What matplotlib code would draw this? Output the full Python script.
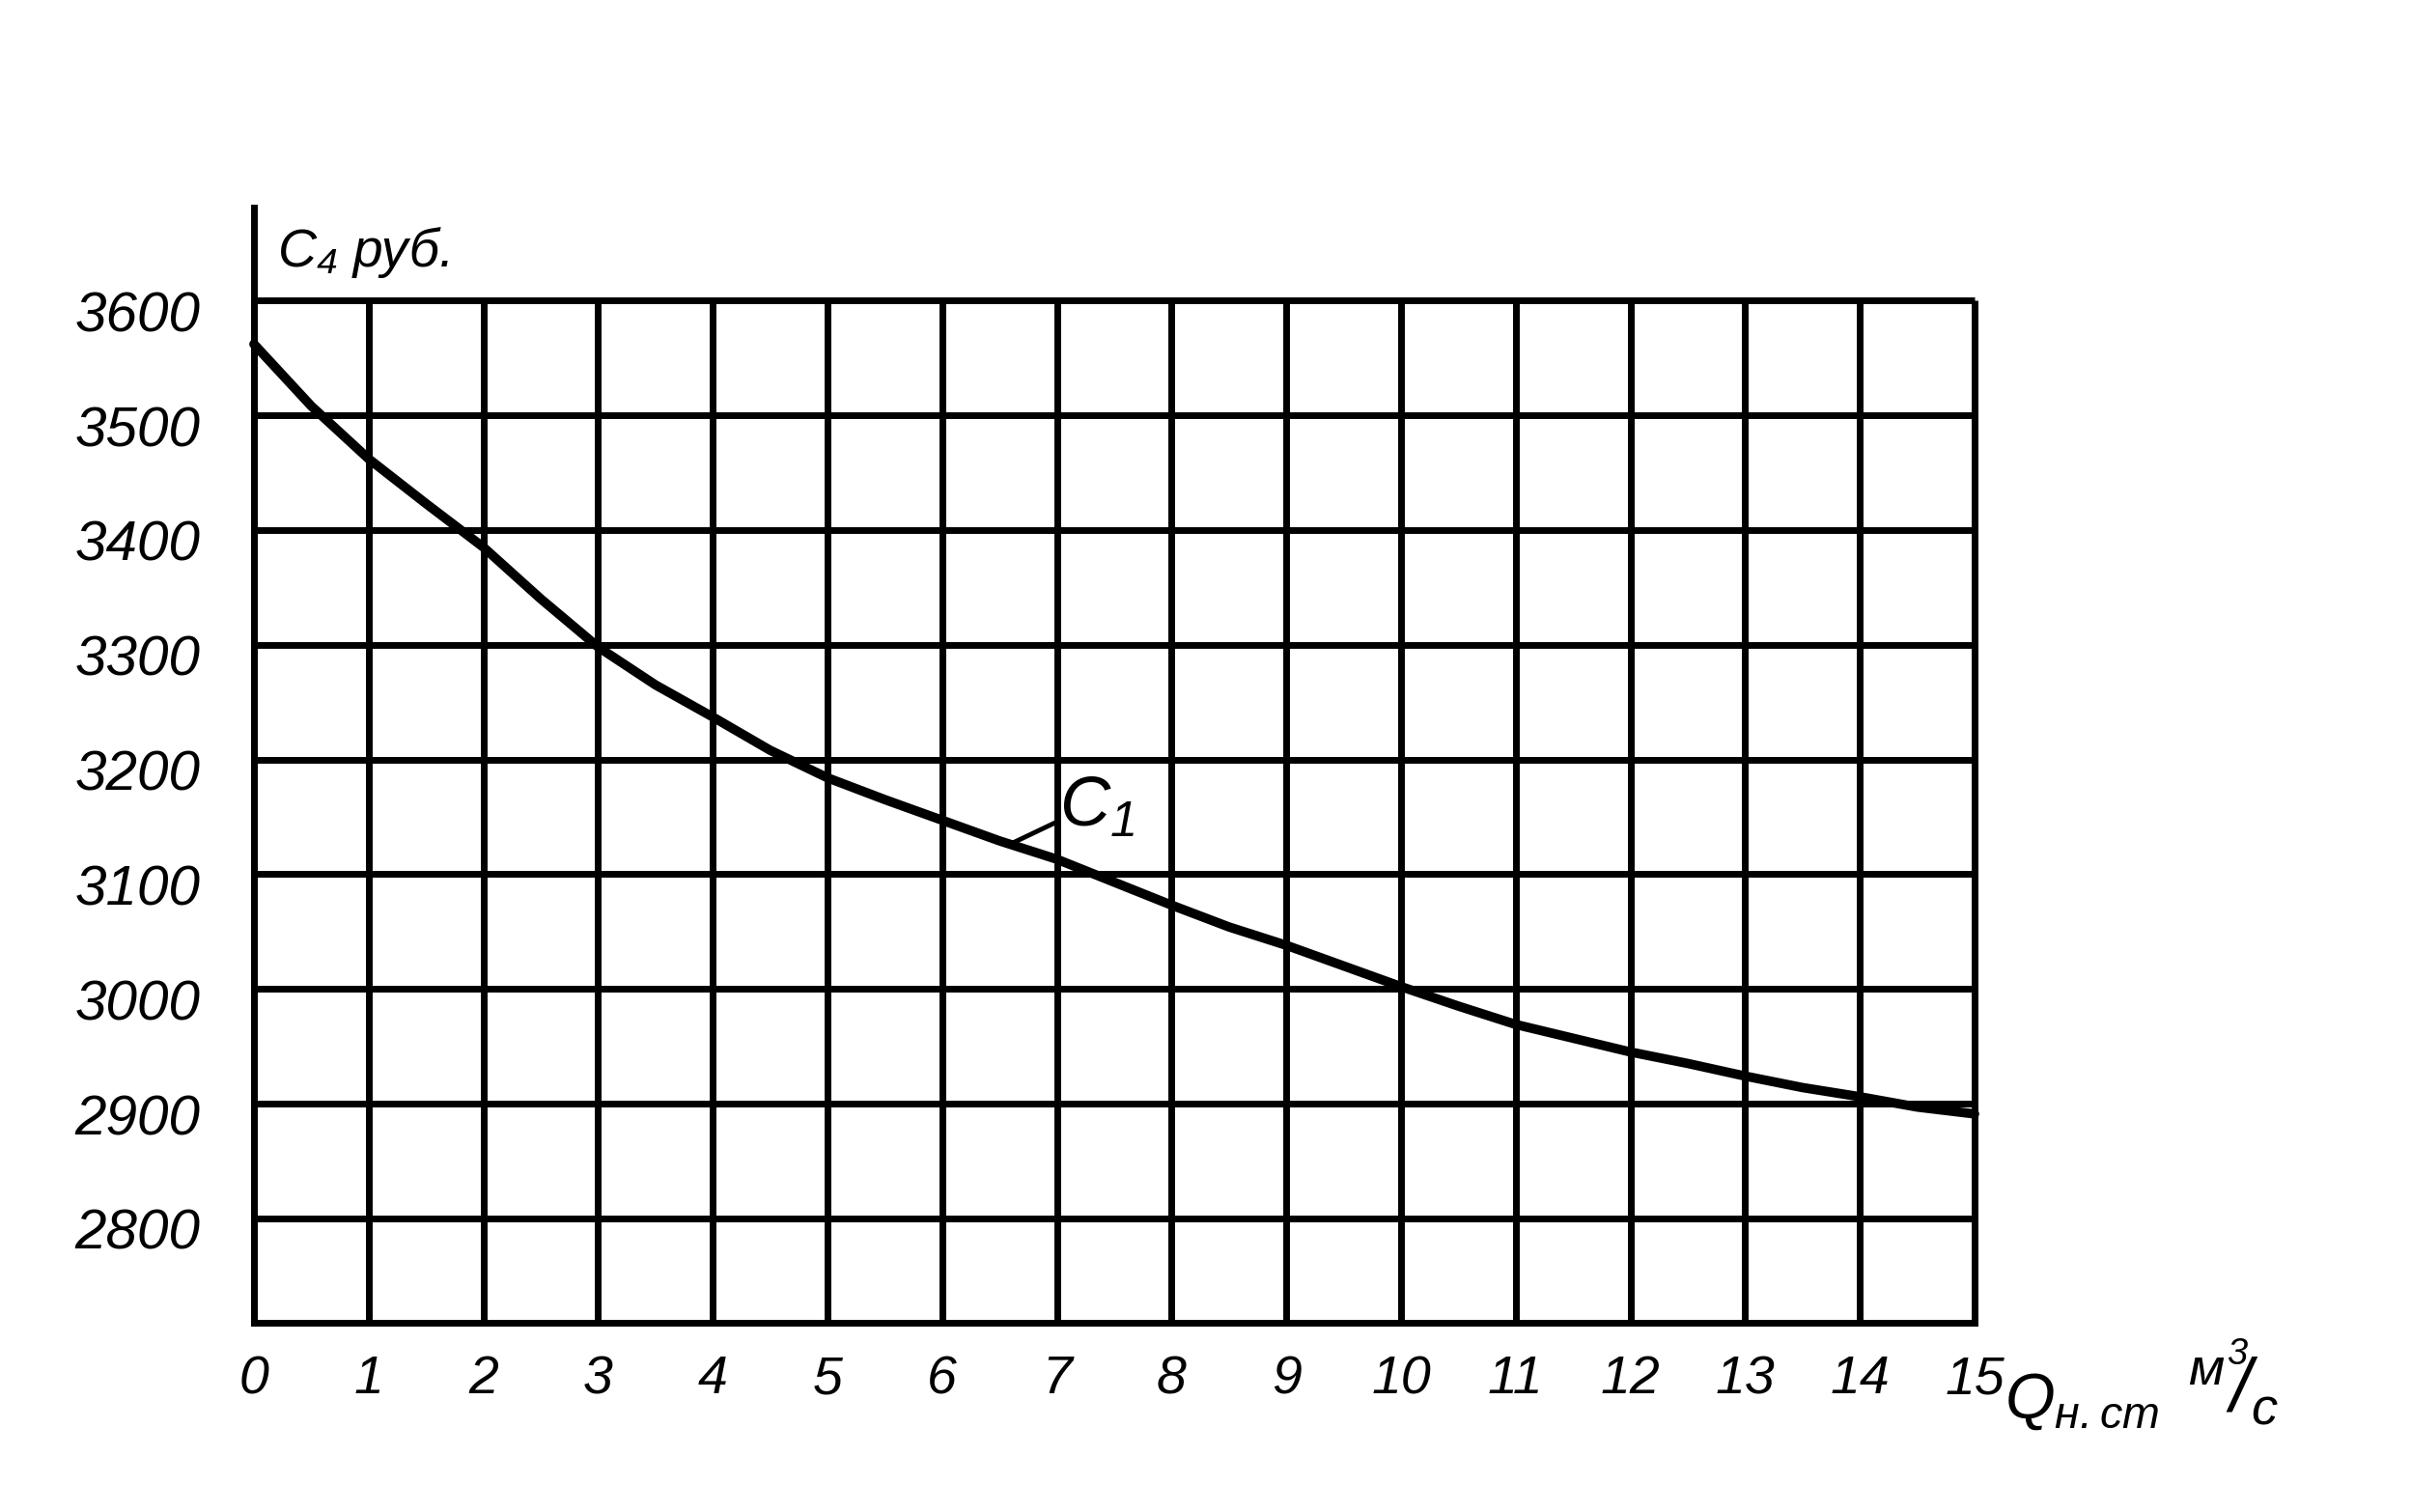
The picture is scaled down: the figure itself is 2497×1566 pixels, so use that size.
import matplotlib
matplotlib.use("Agg")
from matplotlib import pyplot as plt
import matplotlib.transforms as mtransforms

# values (every half unit of Q)
q_values = [0, 0.5, 1, 1.5, 2, 2.5, 3, 3.5, 4, 4.5, 5, 5.5, 6, 6.5, 7, 7.5,
            8, 8.5, 9, 9.5, 10, 10.5, 11, 11.5, 12, 12.5, 13, 13.5, 14, 14.5, 15]
c_values = [3562, 3508, 3462, 3423, 3385, 3340, 3298, 3265, 3237, 3208, 3184,
            3165, 3147, 3129, 3113, 3093, 3073, 3054, 3038, 3020, 3002, 2985,
            2969, 2957, 2945, 2935, 2924, 2914, 2906, 2897, 2891]

x_ticks = list(range(0, 16))
y_ticks = [2800, 2900, 3000, 3100, 3200, 3300, 3400, 3500, 3600]
x_labels = [str(v) for v in x_ticks]
y_labels = [str(v) for v in y_ticks]

FONT = ['Liberation Sans', 'DejaVu Sans']
W, H = 2497, 1566

plt.rcParams['font.family'] = FONT
plt.rcParams['font.style'] = 'italic'
plt.rcParams['mathtext.fontset'] = 'custom'
plt.rcParams['mathtext.it'] = 'Liberation Sans:italic'
plt.rcParams['mathtext.rm'] = 'Liberation Sans:italic'

fig = plt.figure(figsize=(W / 100, H / 100), dpi=100)
ax = fig.add_axes([263 / W, 196 / H, (2045 - 263) / W, (1370 - 215) / H])
ax.set_xlim(0, 15)
ax.set_ylim(2709, 3681)

# grid as drawn on paper
ax.hlines(y_ticks, 0, 15, colors='black', lw=5, clip_on=False)
ax.vlines(x_ticks, 2709, 3600, colors='black', lw=5, clip_on=False)

ax.plot(q_values, c_values, color='black', lw=7, solid_capstyle='round',
        solid_joinstyle='round', clip_on=False)

for s in ['top', 'right']:
    ax.spines[s].set_visible(False)
for s in ['left', 'bottom']:
    ax.spines[s].set_linewidth(5)

ax.set_yticks([])
ax.set_xticks(x_ticks)
ax.set_xticklabels(x_labels, fontsize=40, style='italic')
ax.tick_params(axis='x', length=0, pad=24)

# y labels sit slightly under their lines
off = mtransforms.ScaledTranslation(0, -0.17, fig.dpi_scale_trans)
for v, lab in zip(y_ticks, y_labels):
    ax.text(-0.031, v, lab, transform=ax.get_yaxis_transform() + off,
            ha='right', va='center', fontsize=42, style='italic')

# curve label with leader
ax.annotate(r'$C_1$', xy=(6.61, 3127), xytext=(7.02, 3158), fontsize=52,
            ha='left', va='center',
            arrowprops=dict(arrowstyle='-', lw=3.5, color='black',
                            relpos=(0, 0.3), shrinkA=0, shrinkB=0))

# axis titles
fig.text(288 / W, 1 - 262 / H, 'C₄ руб.', fontsize=40, style='italic',
         ha='left', va='center')
fig.text(2076 / W, 1 - 1452 / H, r'$Q_{н.ст}$', fontsize=48,
         ha='left', va='center')
fig.text(2266 / W, 1 - 1432 / H, r'${}^{м^3}\!\!/_{с}$', fontsize=56,
         ha='left', va='center')

fig.savefig('out.png', dpi=100)
